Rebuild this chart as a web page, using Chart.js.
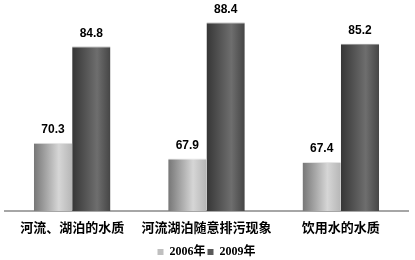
<!DOCTYPE html>
<html>
<head>
  <meta charset="utf-8">
  <title>水质</title>
  <script src="https://cdnjs.cloudflare.com/ajax/libs/Chart.js/4.4.0/chart.umd.min.js"></script>
  <style>
    html, body {
      margin: 0;
      padding: 0;
      background: #fff;
    }
    #box {
      width: 415px;
      height: 260px;
    }
  </style>
</head>
<body>
  <div id="box">
    <canvas id="chart"></canvas>
  </div>
  <script>
    const categories = ['河流、湖泊的水质', '河流湖泊随意排污现象', '饮用水的水质'];
    const years = ['2006年', '2009年'];
    const values2006 = [70.3, 67.9, 67.4];
    const values2009 = [84.8, 88.4, 85.2];

    // cylinder look: colour stops across the bar width
    const shades = [
      { flat: '#bfbfbf', stops: ['#767676', '#d6d6d6', '#b6b6b6'], top: '#e4e4e4' },
      { flat: '#595959', stops: ['#363636', '#6e6e6e', '#454545'], top: '#8a8a8a' }
    ];

    function barFill(c) {
      const s = shades[c.datasetIndex];
      const meta = c.chart.getDatasetMeta(c.datasetIndex);
      const el = meta.data[c.dataIndex];
      if (!el || el.x == null || isNaN(el.x) || !el.width) return s.flat;
      const left = el.x - el.width / 2;
      const g = c.chart.ctx.createLinearGradient(left, 0, left + el.width, 0);
      g.addColorStop(0, s.stops[0]);
      g.addColorStop(0.65, s.stops[1]);
      g.addColorStop(1, s.stops[2]);
      return g;
    }

    const valueLabels = {
      id: 'valueLabels',
      afterDatasetsDraw(chart) {
        const ctx = chart.ctx;
        ctx.save();
        ctx.font = 'bold 12px "Liberation Sans", Arial, sans-serif';
        ctx.fillStyle = '#000';
        ctx.textAlign = 'center';
        ctx.textBaseline = 'bottom';
        chart.data.datasets.forEach((ds, i) => {
          chart.getDatasetMeta(i).data.forEach((el, j) => {
            ctx.fillText(ds.data[j].toFixed(1), el.x, el.y - 7);
          });
        });
        ctx.restore();
      }
    };

    const chart = new Chart(document.getElementById('chart'), {
      type: 'bar',
      data: {
        labels: categories,
        datasets: [
          {
            label: years[0],
            data: values2006,
            backgroundColor: barFill,
            borderColor: shades[0].top,
            borderWidth: { top: 1, left: 0, right: 0, bottom: 0 },
            borderSkipped: false
          },
          {
            label: years[1],
            data: values2009,
            backgroundColor: barFill,
            borderColor: shades[1].top,
            borderWidth: { top: 1, left: 0, right: 0, bottom: 0 },
            borderSkipped: false
          }
        ]
      },
      options: {
        responsive: true,
        maintainAspectRatio: false,
        animation: false,
        layout: { padding: { left: 5, right: 7, top: 12, bottom: -8 } },
        datasets: {
          bar: { categoryPercentage: 0.57, barPercentage: 1.0 }
        },
        scales: {
          x: {
            grid: { display: false, drawTicks: false },
            border: { color: '#a6a6a6', width: 2 },
            ticks: {
              color: '#000',
              padding: 10,
              maxRotation: 0,
              font: { family: '"Noto Sans CJK SC", sans-serif', size: 13, weight: 'bold', lineHeight: 1 }
            }
          },
          y: {
            display: false,
            min: 60,
            max: 90
          }
        },
        plugins: {
          legend: {
            position: 'bottom',
            labels: {
              color: '#000',
              boxWidth: 6,
              boxHeight: 6,
              padding: 2,
              font: { family: '"Liberation Serif", "Noto Sans CJK SC", serif', size: 12, weight: 'bold' },
              generateLabels(chart) {
                return chart.data.datasets.map((ds, i) => ({
                  text: ds.label,
                  fillStyle: shades[i].flat,
                  strokeStyle: shades[i].flat,
                  lineWidth: 0,
                  datasetIndex: i,
                  fontColor: '#000'
                }));
              }
            }
          },
          tooltip: { enabled: false }
        }
      },
      plugins: [valueLabels]
    });
    chart.update();
  </script>
</body>
</html>
